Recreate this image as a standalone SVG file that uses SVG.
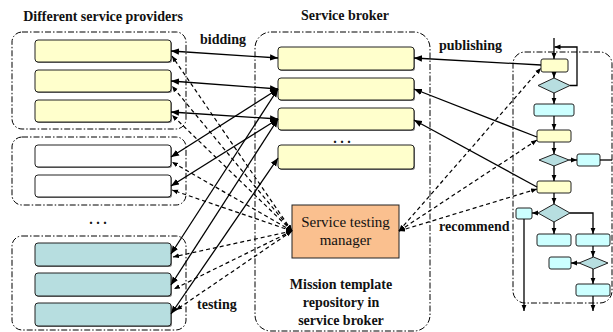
<svg xmlns="http://www.w3.org/2000/svg" width="613" height="332" viewBox="0 0 613 332">
<style>
text{font-family:"Liberation Serif","Times New Roman",serif;font-size:14px;font-weight:bold;fill:#111}
.reg{font-weight:normal;font-size:15px}
.grp{fill:none;stroke:#000;stroke-width:1;stroke-dasharray:6 2 1.5 2}
.box{stroke:#222;stroke-width:1}
.sh{fill:#777}
.y{fill:#FFFFCC}
.w{fill:#FFFFFF}
.t{fill:#B7DEE0}
.c{fill:#CCFFFF}
.o{fill:#FAC08F}
.sol{fill:none;stroke:#000;stroke-width:1.3;marker-start:url(#ah);marker-end:url(#ah)}
.one{fill:none;stroke:#000;stroke-width:1.3;marker-end:url(#ah)}
.dsh{fill:none;stroke:#000;stroke-width:1.2;stroke-dasharray:4 3;marker-start:url(#ad);marker-end:url(#ad)}
.fl{fill:none;stroke:#000;stroke-width:1.3}
.fa{fill:none;stroke:#000;stroke-width:1.3;marker-end:url(#af)}
</style>
<defs>
<marker id="ah" viewBox="0 0 10 10" refX="10" refY="5" markerWidth="8" markerHeight="8" markerUnits="userSpaceOnUse" orient="auto-start-reverse"><path d="M0,1 L10,5 L0,9 z" fill="#000"/></marker>
<marker id="ad" viewBox="0 0 10 10" refX="10" refY="5" markerWidth="6" markerHeight="6" markerUnits="userSpaceOnUse" orient="auto-start-reverse"><path d="M0,1 L10,5 L0,9 z" fill="#000"/></marker>
<marker id="af" viewBox="0 0 10 10" refX="10" refY="5" markerWidth="6" markerHeight="6" markerUnits="userSpaceOnUse" orient="auto"><path d="M0,1 L10,5 L0,9 z" fill="#000"/></marker>
</defs>

<!-- titles and labels -->
<text x="103" y="21" text-anchor="middle">Different service providers</text>
<text x="345" y="20" text-anchor="middle">Service broker</text>
<text x="200" y="44">bidding</text>
<text x="439" y="50">publishing</text>
<text x="439" y="231">recommend</text>
<text x="197" y="309">testing</text>
<text x="98" y="224" text-anchor="middle">. . .</text>
<text x="342" y="143" text-anchor="middle">. . .</text>

<!-- provider groups -->
<g id="providers1">
<rect class="grp" x="12" y="32" width="174" height="97" rx="10"/>
<rect class="sh" x="36" y="41" width="136" height="22" rx="3"/>
<rect class="box y" x="35" y="40" width="136" height="22" rx="3"/>
<rect class="sh" x="36" y="71" width="136" height="22" rx="3"/>
<rect class="box y" x="35" y="70" width="136" height="22" rx="3"/>
<rect class="sh" x="36" y="101" width="136" height="22" rx="3"/>
<rect class="box y" x="35" y="100" width="136" height="22" rx="3"/>
</g>
<g id="providers2">
<rect class="grp" x="12" y="137" width="174" height="68" rx="10"/>
<rect class="sh" x="36" y="146" width="136" height="22" rx="3"/>
<rect class="box w" x="35" y="145" width="136" height="22" rx="3"/>
<rect class="sh" x="36" y="176" width="136" height="22" rx="3"/>
<rect class="box w" x="35" y="175" width="136" height="22" rx="3"/>
</g>
<g id="providers3">
<rect class="grp" x="12" y="236" width="174" height="94" rx="10"/>
<rect class="sh" x="36" y="244" width="136" height="23" rx="3"/>
<rect class="box t" x="35" y="243" width="136" height="23" rx="3"/>
<rect class="sh" x="36" y="274" width="136" height="23" rx="3"/>
<rect class="box t" x="35" y="273" width="136" height="23" rx="3"/>
<rect class="sh" x="36" y="304" width="136" height="23" rx="3"/>
<rect class="box t" x="35" y="303" width="136" height="23" rx="3"/>
</g>

<!-- broker -->
<g id="broker">
<rect class="grp" x="255" y="32" width="175" height="299" rx="16"/>
<rect class="sh" x="279" y="48" width="136" height="23" rx="3"/>
<rect class="box y" x="278" y="47" width="136" height="23" rx="3"/>
<rect class="sh" x="279" y="79" width="136" height="22" rx="3"/>
<rect class="box y" x="278" y="78" width="136" height="22" rx="3"/>
<rect class="sh" x="279" y="109" width="136" height="22" rx="3"/>
<rect class="box y" x="278" y="108" width="136" height="22" rx="3"/>
<rect class="sh" x="279" y="146" width="136" height="24" rx="3"/>
<rect class="box y" x="278" y="145" width="136" height="24" rx="3"/>
<text x="341" y="289" text-anchor="middle">Mission template</text>
<text x="341" y="307" text-anchor="middle">repository in</text>
<text x="341" y="325" text-anchor="middle">service broker</text>
</g>
<g id="testing-manager">
<rect class="box o" x="292" y="205" width="107" height="53" stroke-width="1.3"/>
<text class="reg" x="345.5" y="227" text-anchor="middle">Service testing</text>
<text class="reg" x="345.5" y="245" text-anchor="middle">manager</text>
</g>

<!-- flowchart -->
<g id="flowchart">
<rect class="grp" x="513" y="52" width="99" height="251" rx="12"/>
<rect class="box y" x="541" y="59" width="27" height="13" rx="2"/>
<polygon class="box t" points="538,85.5 554,78 570,85.5 554,93"/>
<rect class="box c" x="534" y="104" width="40" height="12" rx="2"/>
<rect class="box y" x="537" y="130" width="34" height="12" rx="2"/>
<polygon class="box t" points="539,160 554,154 569,160 554,166"/>
<rect class="box c" x="577" y="154" width="23" height="12" rx="2"/>
<rect class="box y" x="537" y="181" width="34" height="12" rx="2"/>
<polygon class="box t" points="538,213 554,204 570,213 554,222"/>
<rect class="box c" x="516" y="208" width="16" height="11" rx="2"/>
<rect class="box c" x="537" y="234" width="34" height="12" rx="2"/>
<rect class="box c" x="576" y="234" width="34" height="12" rx="2"/>
<polygon class="box t" points="579,263 593.5,257 608,263 593.5,269"/>
<rect class="box c" x="549" y="257" width="22" height="12" rx="2"/>
<rect class="box c" x="576" y="284" width="34" height="12" rx="2"/>
</g>

<g id="connectors">
<!-- flowchart arrows -->
<path class="fa" d="M554,38 V59"/>
<path class="fa" d="M570,85.5 H577 V47 H554.5"/>
<path class="fa" d="M554,72 V78"/>
<path class="fa" d="M554,93 V104"/>
<path class="fa" d="M554,116 V130"/>
<path class="fa" d="M554,142 V154"/>
<path class="fa" d="M569,160 H577"/>
<path class="fl" d="M600,160 H612"/>
<path class="fa" d="M554,166 V181"/>
<path class="fa" d="M554,193 V204"/>
<path class="fa" d="M538,213 H532"/>
<path class="fa" d="M524,219 V311"/>
<path class="fa" d="M554,222 V234"/>
<path class="fa" d="M570,213 H593 V234"/>
<path class="fa" d="M593,246 V257"/>
<path class="fa" d="M579,263 H571"/>
<path class="fa" d="M593,269 V284"/>
<path class="fa" d="M593,296 V311"/>

<!-- bidding / testing solid -->
<path class="sol" d="M171,51 L278,58"/>
<path class="sol" d="M171,81 L278,89"/>
<path class="sol" d="M171,112 L278,119"/>
<path class="sol" d="M171,157 L278,89"/>
<path class="sol" d="M171,186 L278,119"/>
<path class="sol" d="M171,254 L278,89"/>
<path class="sol" d="M171,285 L278,119"/>
<path class="sol" d="M171,314 L278,158"/>

<!-- publishing -->
<path class="one" d="M541,65 L414,58"/>
<path class="one" d="M537,137 L414,89"/>
<path class="one" d="M537,187 L414,120"/>

<!-- testing dashed -->
<path class="dsh" d="M292,231 L172,56"/>
<path class="dsh" d="M292,231 L172,86"/>
<path class="dsh" d="M292,231 L172,115"/>
<path class="dsh" d="M292,231 L172,162"/>
<path class="dsh" d="M292,231 L172,190"/>
<path class="dsh" d="M292,231 L173,257"/>
<path class="dsh" d="M292,231 L174,289"/>
<path class="dsh" d="M292,231 L176,310"/>

<!-- recommend dashed -->
<path class="dsh" d="M399,231 L541,68"/>
<path class="dsh" d="M399,231 L537,140"/>
<path class="dsh" d="M399,231 L537,189"/>
</g>
</svg>
